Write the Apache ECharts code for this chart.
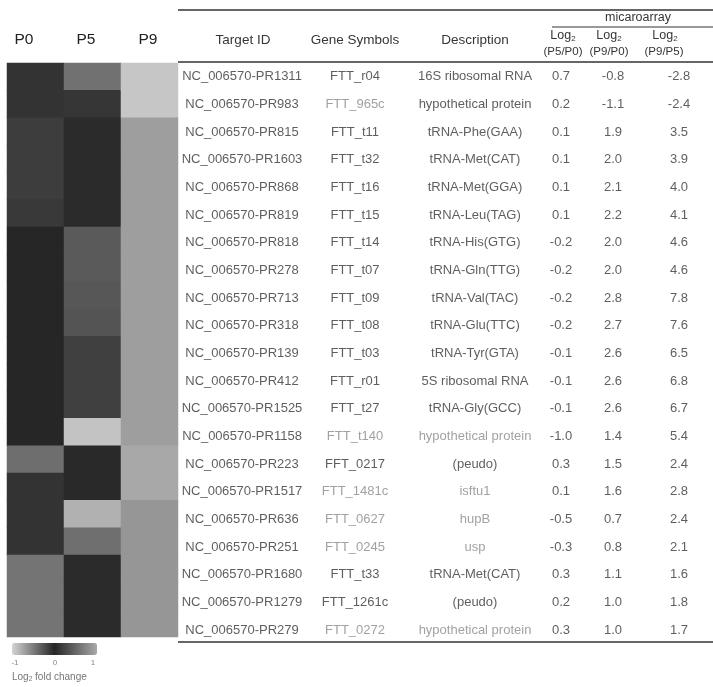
<!DOCTYPE html>
<html>
<head>
<meta charset="utf-8">
<script src="https://cdn.jsdelivr.net/npm/echarts@6/dist/echarts.min.js"></script>
<style>
  html, body { margin: 0; padding: 0; background: #fff; }
  #main { width: 713px; height: 687px; }
</style>
</head>
<body>
<div id="main"></div>
<script>
// samples (heatmap columns)
var samples = ['P0', 'P5', 'P9'];

// table rows
var targetIds = ['NC_006570-PR1311', 'NC_006570-PR983', 'NC_006570-PR815', 'NC_006570-PR1603',
  'NC_006570-PR868', 'NC_006570-PR819', 'NC_006570-PR818', 'NC_006570-PR278', 'NC_006570-PR713',
  'NC_006570-PR318', 'NC_006570-PR139', 'NC_006570-PR412', 'NC_006570-PR1525', 'NC_006570-PR1158',
  'NC_006570-PR223', 'NC_006570-PR1517', 'NC_006570-PR636', 'NC_006570-PR251', 'NC_006570-PR1680',
  'NC_006570-PR1279', 'NC_006570-PR279'];
var geneSymbols = ['FTT_r04', 'FTT_965c', 'FTT_t11', 'FTT_t32', 'FTT_t16', 'FTT_t15', 'FTT_t14',
  'FTT_t07', 'FTT_t09', 'FTT_t08', 'FTT_t03', 'FTT_r01', 'FTT_t27', 'FTT_t140', 'FFT_0217',
  'FTT_1481c', 'FTT_0627', 'FTT_0245', 'FTT_t33', 'FTT_1261c', 'FTT_0272'];
var descriptions = ['16S ribosomal RNA', 'hypothetical protein', 'tRNA-Phe(GAA)', 'tRNA-Met(CAT)',
  'tRNA-Met(GGA)', 'tRNA-Leu(TAG)', 'tRNA-His(GTG)', 'tRNA-Gln(TTG)', 'tRNA-Val(TAC)',
  'tRNA-Glu(TTC)', 'tRNA-Tyr(GTA)', '5S ribosomal RNA', 'tRNA-Gly(GCC)', 'hypothetical protein',
  '(peudo)', 'isftu1', 'hupB', 'usp', 'tRNA-Met(CAT)', '(peudo)', 'hypothetical protein'];
// cells printed lighter in the figure
var faintGenes = [1, 13, 15, 16, 17, 20];
var faintDesc = [13, 15, 16, 17, 20];

// microarray log2 ratios
var log2P5P0 = [0.7, 0.2, 0.1, 0.1, 0.1, 0.1, -0.2, -0.2, -0.2, -0.2, -0.1, -0.1, -0.1, -1.0, 0.3, 0.1, -0.5, -0.3, 0.3, 0.2, 0.3];
var log2P9P0 = [-0.8, -1.1, 1.9, 2.0, 2.1, 2.2, 2.0, 2.0, 2.8, 2.7, 2.6, 2.6, 2.6, 1.4, 1.5, 1.6, 0.7, 0.8, 1.1, 1.0, 1.0];
var log2P9P5 = [-2.8, -2.4, 3.5, 3.9, 4.0, 4.1, 4.6, 4.6, 7.8, 7.6, 6.5, 6.8, 6.7, 5.4, 2.4, 2.8, 2.4, 2.1, 1.6, 1.8, 1.7];

// heatmap values (log2 fold change, read from the grey shading)
var heatP0 = [0.1, 0.1, 0.18, 0.18, 0.18, 0.15, 0.0, 0.0, 0.0, 0.0, 0.0, 0.0, 0.0, 0.0, 0.55, 0.1, 0.1, 0.1, 0.6, 0.6, 0.6];
var heatP5 = [0.58, 0.12, 0.04, 0.04, 0.04, 0.04, 0.4, 0.4, 0.38, 0.35, 0.2, 0.2, 0.2, -0.9, 0.02, 0.02, -0.8, 0.56, 0.04, 0.04, 0.04];
var heatP9 = [-0.92, -0.92, 0.92, 0.92, 0.92, 0.92, 0.92, 0.92, 0.92, 0.92, 0.92, 0.92, 0.92, 0.92, 1.0, 1.0, 0.86, 0.86, 0.86, 0.86, 0.86];

// legend ticks
var legendTicks = ['-1', '0', '1'];

var rowIdx = targetIds.map(function (d, i) { return i; });

var heatData = [];
[heatP0, heatP5, heatP9].forEach(function (col, c) {
  col.forEach(function (v, r) { heatData.push([c, r, v]); });
});

// table column centres inside the table grid (x value units = px)
var colX = [64, 177, 297, 383, 435, 501];
var textColor = '#363636';
var faintColor = '#8a8a8a';
var font = 'Liberation Sans, Arial, sans-serif';

function tableSeries(x, texts, faint) {
  return {
    type: 'scatter',
    xAxisIndex: 1,
    yAxisIndex: 1,
    symbolSize: 1,
    silent: true,
    itemStyle: { color: 'rgba(0,0,0,0)' },
    label: {
      show: true,
      position: 'inside',
      fontFamily: font,
      fontSize: 13,
      color: textColor,
      formatter: function (p) { return p.data.text; }
    },
    data: texts.map(function (t, i) {
      var item = { value: [x, i], text: t };
      if (faint && faint.indexOf(i) >= 0) item.label = { color: faintColor };
      return item;
    })
  };
}

function fmt(v) { return v.toFixed(1); }

var chart = echarts.init(document.getElementById('main'));

var subRich = {
  sub: { fontSize: 8, fontFamily: font, color: textColor, padding: [6, 0, 0, 0] }
};

function headText(x, y, txt, size, extra) {
  var st = { text: txt, fontSize: size, fontFamily: font, fill: textColor };
  if (extra) for (var k in extra) st[k] = extra[k];
  return { type: 'text', x: x, y: y, style: st };
}

var option = {
  animation: false,
  grid: [
    { left: 7, top: 63, width: 171, height: 574 },
    { left: 178, top: 63, right: 0, bottom: 43 }
  ],
  xAxis: [
    { type: 'category', gridIndex: 0, data: samples, position: 'top', show: false },
    { type: 'value', gridIndex: 1, min: 0, max: 535, show: false }
  ],
  yAxis: [
    { type: 'category', gridIndex: 0, data: rowIdx, inverse: true, show: false },
    { type: 'category', gridIndex: 1, data: rowIdx, inverse: true, show: false }
  ],
  visualMap: {
    type: 'continuous',
    seriesIndex: 0,
    min: -1,
    max: 1,
    orient: 'horizontal',
    left: 12,
    top: 643,
    padding: 0,
    itemWidth: 12,
    itemHeight: 85,
    calculable: false,
    inRange: { color: ['#d4d4d4', '#262626', '#a8a8a8'] }
  },
  series: [
    {
      type: 'heatmap',
      xAxisIndex: 0,
      yAxisIndex: 0,
      data: heatData,
      itemStyle: { borderWidth: 0 }
    },
    tableSeries(colX[0], targetIds),
    tableSeries(colX[1], geneSymbols, faintGenes),
    tableSeries(colX[2], descriptions, faintDesc),
    tableSeries(colX[3], log2P5P0.map(fmt)),
    tableSeries(colX[4], log2P9P0.map(fmt)),
    tableSeries(colX[5], log2P9P5.map(fmt))
  ],
  graphic: [
    // table rules
    { type: 'line', shape: { x1: 178, y1: 10, x2: 713, y2: 10 }, style: { stroke: '#333', lineWidth: 1.5 } },
    { type: 'line', shape: { x1: 552, y1: 27, x2: 713, y2: 27 }, style: { stroke: '#333', lineWidth: 1.2 } },
    { type: 'line', shape: { x1: 178, y1: 62, x2: 713, y2: 62 }, style: { stroke: '#333', lineWidth: 1.5 } },
    { type: 'line', shape: { x1: 178, y1: 642, x2: 713, y2: 642 }, style: { stroke: '#333', lineWidth: 1.5 } },
    // sample headers
    headText(24, 40, samples[0], 15.5, { align: 'center', verticalAlign: 'middle', fill: '#222' }),
    headText(86, 40, samples[1], 15.5, { align: 'center', verticalAlign: 'middle', fill: '#222' }),
    headText(148, 40, samples[2], 15.5, { align: 'center', verticalAlign: 'middle', fill: '#222' }),
    // table header
    headText(243, 40, 'Target ID', 13.5, { align: 'center', verticalAlign: 'middle' }),
    headText(355, 40, 'Gene Symbols', 13.5, { align: 'center', verticalAlign: 'middle' }),
    headText(475, 40, 'Description', 13.5, { align: 'center', verticalAlign: 'middle' }),
    headText(638, 18, 'micaroarray', 12.5, { align: 'center', verticalAlign: 'middle' }),
    headText(563, 36, 'Log{sub|2}', 12.5, { align: 'center', verticalAlign: 'middle', rich: subRich }),
    headText(609, 36, 'Log{sub|2}', 12.5, { align: 'center', verticalAlign: 'middle', rich: subRich }),
    headText(665, 36, 'Log{sub|2}', 12.5, { align: 'center', verticalAlign: 'middle', rich: subRich }),
    headText(563, 52, '(P5/P0)', 11.5, { align: 'center', verticalAlign: 'middle' }),
    headText(609, 52, '(P9/P0)', 11.5, { align: 'center', verticalAlign: 'middle' }),
    headText(664, 52, '(P9/P5)', 11.5, { align: 'center', verticalAlign: 'middle' }),
    // legend ticks and caption
    headText(15, 663, legendTicks[0], 8, { align: 'center', verticalAlign: 'middle', fill: '#888' }),
    headText(55, 663, legendTicks[1], 8, { align: 'center', verticalAlign: 'middle', fill: '#888' }),
    headText(93, 663, legendTicks[2], 8, { align: 'center', verticalAlign: 'middle', fill: '#888' }),
    headText(12, 677, 'Log{sub|2} fold change', 10, {
      verticalAlign: 'middle', fill: '#777',
      rich: { sub: { fontSize: 6.5, fill: '#777', padding: [4, 0, 0, 0] } }
    })
  ]
};

chart.setOption(option);
</script>
</body>
</html>
